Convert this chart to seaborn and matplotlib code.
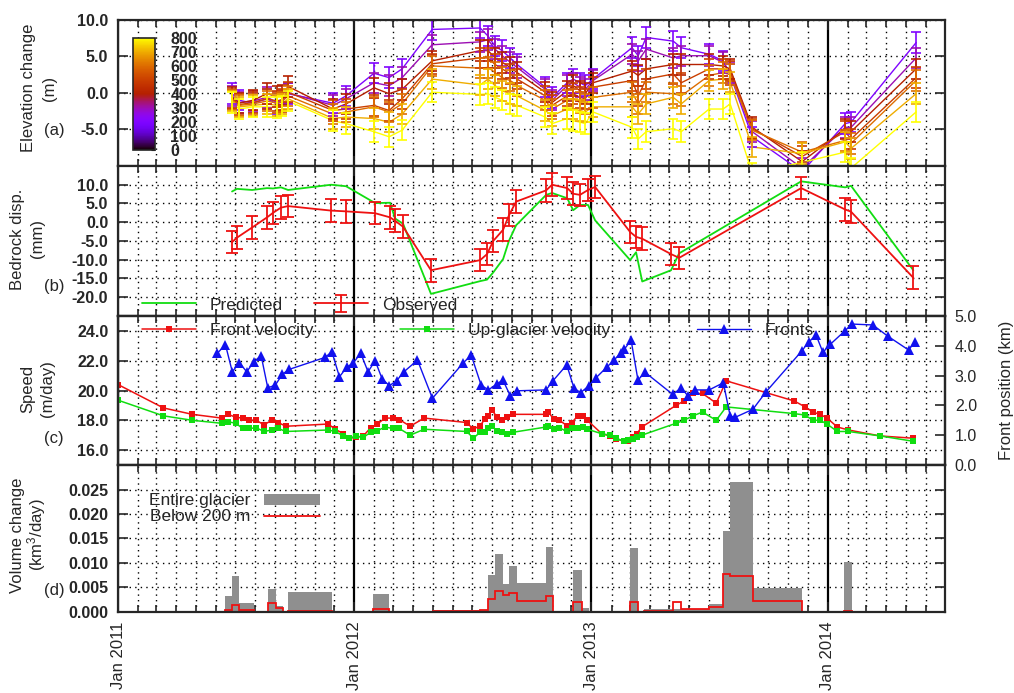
import matplotlib
matplotlib.use('Agg')
import matplotlib.pyplot as plt
import matplotlib.dates as mdates
import numpy as np
import pandas as pd
import seaborn as sns

sns.set_style('ticks')
plt.rcParams['font.family'] = ['Liberation Sans', 'DejaVu Sans']
plt.rcParams['font.size'] = 12
plt.rcParams['axes.linewidth'] = 1.6
plt.rcParams['mathtext.default'] = 'regular'

# time is given in years since 1 Jan 2011

# (a) elevation change per elevation band (m)
dem_t = [0.482, 0.512, 0.571, 0.630, 0.672, 0.693, 0.719, 0.909, 0.964,
         1.082, 1.146, 1.201, 1.328, 1.531, 1.564, 1.594, 1.624, 1.658,
         1.687, 1.806, 1.835, 1.899, 1.924, 1.953, 1.975, 2.008, 2.173,
         2.199, 2.233, 2.347, 2.381, 2.499, 2.558, 2.588, 2.681, 2.892,
         3.074, 3.099, 3.374]
elev_bands = [200, 300, 400, 500, 600, 700, 800]
cbar_ticks = [0, 100, 200, 300, 400, 500, 600, 700, 800]
dh_200 = [-0.1, -1.0, -1.4, -0.8, -1.5, -1.2, -0.1, -1.4, -0.4, 2.7, 2.1, 3.3, 8.7,
          8.9, 7.8, 6.4, 5.8, 4.8, 3.9, 0.8, -0.6, 1.4, 1.9, 1.4, 1.0, 1.9, 6.2,
          5.1, 7.6, 7.1, 6.2, 5.3, 4.4, 2.5, -6.0, -10.8, -4.2, -4.0, 6.9]
dh_300 = [-0.4, -1.3, -1.1, -0.6, -1.3, -1.0, 0.0, -1.7, -0.8, 1.4, 1.0, 2.1, 6.6,
          7.0, 7.3, 6.0, 5.1, 4.2, 3.5, 0.5, -1.0, 1.0, 1.4, 0.8, 0.5, 1.7, 5.3,
          4.4, 6.0, 4.8, 5.1, 5.1, 4.2, 2.8, -5.3, -10.3, -4.7, -4.7, 4.8]
dh_400 = [-0.6, -1.4, -1.0, -0.1, -0.5, -0.3, 0.9, -2.2, -1.5, 0.7, -0.1, 0.5, 4.4,
          5.8, 5.8, 4.8, 4.2, 3.5, 2.8, 0.1, -1.3, 0.3, 1.0, 0.3, -0.1, 1.4, 3.0,
          2.4, 3.3, 3.9, 3.9, 3.9, 3.7, 3.3, -4.7, -9.4, -4.9, -5.3, 3.3]
dh_500 = [-0.8, -1.6, -1.3, -0.8, -1.1, -0.9, 0.1, -2.4, -2.2, -1.7, -2.4, -0.8, 4.0,
          4.8, 4.8, 3.9, 3.3, 2.6, 1.9, -0.4, -1.7, -0.4, -0.1, -0.6, -0.8, 0.8, 1.7,
          -0.4, 1.9, 2.6, 1.4, 3.3, 3.3, 3.0, -4.9, -8.7, -5.3, -6.3, 2.1]
dh_600 = [-1.0, -1.7, -1.5, -1.1, -1.4, -1.2, -0.4, -2.9, -2.6, -1.9, -2.6, -1.5, 3.7,
          3.4, 3.5, 2.8, 2.1, 1.7, 1.0, -1.0, -2.2, -1.0, -0.8, -1.3, -1.5, -0.6, 0.1,
          -1.5, 0.1, -0.1, -0.4, 2.4, 2.8, 2.5, -5.1, -8.1, -6.5, -6.9, 1.7]
dh_700 = [-1.1, -1.9, -1.7, -1.5, -1.7, -1.5, -0.8, -3.5, -3.3, -3.5, -4.0, -2.9, 1.9,
          1.1, 1.9, 1.0, 0.3, -0.1, -0.4, -2.4, -3.1, -2.2, -2.2, -2.4, -2.6, -1.9, -1.9,
          -2.9, -1.5, -0.6, -1.5, 1.7, 1.9, 1.5, -7.4, -8.3, -6.7, -7.6, -0.1]
dh_800 = [-1.3, -2.2, -1.9, -1.9, -2.0, -1.8, -1.1, -3.8, -4.2, -5.3, -6.0, -5.1, 0.1,
          -0.2, -0.1, -0.6, -1.0, -1.5, -1.7, -3.3, -4.2, -3.5, -3.8, -4.0, -4.2, -2.6, -4.7,
          -6.3, -5.3, -4.9, -5.3, -2.2, -2.2, -1.5, -11.0, -9.5, -8.1, -10.3, -2.6]
dh_err = 1.4

# (b) bedrock displacement (mm)
gps_t = [0.482, 0.503, 0.567, 0.630, 0.655, 0.689, 0.719, 0.901, 0.964, 1.087,
         1.150, 1.171, 1.205, 1.323, 1.531, 1.560, 1.586, 1.628, 1.653, 1.683,
         1.810, 1.835, 1.899, 1.924, 1.953, 1.987, 2.017, 2.165, 2.190, 2.216,
         2.338, 2.372, 2.888, 3.074, 3.099, 3.362]
gps_obs = [-5.3, -4.1, -1.4, 1.3, 2.5, 3.9, 4.3, 3.1, 2.9, 2.4, 1.3, 0.4, -1.2,
           -12.8, -10.1, -8.5, -5.0, -2.0, 1.9, 5.5, 8.5, 10.0, 9.1, 7.6, 7.3, 8.6,
           9.4, -2.6, -3.9, -4.4, -8.5, -9.5, 9.1, 3.4, 2.8, -14.8]
gps_pred = [8.2, 8.9, 8.6, 9.1, 9.0, 9.3, 8.6, 10.0, 9.6, 5.1, 5.2, 1.0, -0.4,
            -19.1, -15.7, -15.3, -13.4, -9.8, -4.9, -0.8, 7.3, 7.8, 6.4, 3.2, 4.6, 4.6,
            0.5, -10.1, -8.0, -15.8, -12.8, -8.3, 10.9, 9.3, 9.7, -12.8]
gps_err = 3.0

# (c) speeds (m/day) and front position (km)
vel_t = [0.0, 0.192, 0.314, 0.438, 0.466, 0.498, 0.527, 0.555, 0.584, 0.617,
         0.650, 0.678, 0.709, 0.889, 0.918, 0.953, 0.978, 1.006, 1.037, 1.068,
         1.096, 1.129, 1.162, 1.189, 1.235, 1.294, 1.474, 1.502, 1.531, 1.552,
         1.566, 1.580, 1.601, 1.622, 1.644, 1.671, 1.810, 1.819, 1.841, 1.866,
         1.897, 1.918, 1.944, 1.967, 1.984, 2.045, 2.080, 2.106, 2.137, 2.158,
         2.179, 2.193, 2.214, 2.359, 2.393, 2.430, 2.471, 2.529, 2.571, 2.858,
         2.905, 2.937, 2.968, 2.997, 3.041, 3.088, 3.222, 3.359]
vel_front = [20.4, 18.83, 18.4, 18.15, 18.4, 18.2, 18.15, 18.0, 18.0, 17.7,
             18.0, 17.85, 17.6, 17.75, 17.4, 17.1, 16.8, 16.85, 16.95, 17.5,
             17.75, 18.15, 18.15, 18.05, 17.6, 18.15, 17.85, 17.4, 17.65, 18.1,
             18.3, 18.7, 18.25, 18.0, 18.2, 18.4, 18.4, 18.55, 18.1, 18.0,
             17.65, 17.85, 18.3, 18.3, 18.0, 17.1, 16.95, 16.75, 16.6, 16.6,
             16.9, 17.1, 17.55, 19.0, 19.3, 19.8, 19.8, 19.15, 20.65, 19.3,
             18.9, 18.55, 18.4, 18.15, 17.55, 17.35, 16.95, 16.8]
vel_up = [19.35, 18.3, 18.0, 17.8, 17.9, 17.8, 17.45, 17.45, 17.5, 17.25,
          17.35, 17.45, 17.25, 17.35, 17.25, 16.95, 16.8, 16.95, 16.85, 17.2,
          17.3, 17.55, 17.45, 17.45, 17.0, 17.4, 17.25, 16.8, 17.2, 17.2,
          17.5, 17.65, 17.25, 17.2, 17.1, 17.2, 17.55, 17.6, 17.4, 17.5,
          17.25, 17.45, 17.5, 17.55, 17.4, 17.1, 17.0, 16.8, 16.6, 16.65,
          16.75, 16.9, 17.0, 17.8, 18.0, 18.3, 18.55, 18.0, 18.9, 18.45,
          18.35, 18.0, 18.0, 17.75, 17.25, 17.25, 16.95, 16.6]
front_t = [0.420, 0.454, 0.483, 0.513, 0.544, 0.575, 0.605, 0.633, 0.665, 0.695,
           0.724, 0.875, 0.904, 0.936, 0.967, 0.995, 1.026, 1.057, 1.087, 1.116,
           1.147, 1.178, 1.209, 1.266, 1.329, 1.460, 1.493, 1.535, 1.566, 1.601,
           1.627, 1.658, 1.686, 1.810, 1.838, 1.897, 1.928, 1.956, 1.989, 2.021,
           2.066, 2.097, 2.126, 2.140, 2.169, 2.198, 2.228, 2.345, 2.381, 2.409,
           2.440, 2.499, 2.559, 2.588, 2.609, 2.684, 2.740, 2.891, 2.919, 2.951,
           2.980, 3.011, 3.074, 3.102, 3.191, 3.253, 3.342, 3.370]
front_pos = [3.75, 4.04, 3.13, 3.43, 3.13, 3.47, 3.67, 2.59, 2.68, 3.05,
             3.21, 3.61, 3.80, 2.96, 3.28, 3.43, 3.75, 3.13, 3.50, 2.90,
             2.66, 2.83, 3.13, 3.52, 2.24, 3.43, 3.69, 2.68, 2.52, 2.72,
             2.85, 2.33, 2.49, 2.52, 2.82, 3.36, 2.57, 2.43, 2.65, 2.93,
             3.28, 3.52, 3.77, 3.88, 4.19, 2.85, 3.11, 2.37, 2.59, 2.32,
             2.52, 2.52, 2.76, 1.64, 1.60, 1.87, 2.46, 3.83, 4.12, 4.36,
             3.78, 4.05, 4.51, 4.73, 4.70, 4.33, 3.86, 4.14]

# (d) volume change (km3/day) between successive surveys
vol_edges = [0.452, 0.482, 0.512, 0.575, 0.634, 0.668, 0.698, 0.719, 0.905,
             1.078, 1.146, 1.332, 1.531, 1.564, 1.594, 1.628, 1.653, 1.687,
             1.810, 1.839, 1.924, 1.962, 1.992, 2.165, 2.199, 2.224, 2.347,
             2.381, 2.499, 2.558, 2.588, 2.685, 2.892, 3.070, 3.104]
vol_total = [0.0032, 0.0073, 0.0018, 0, 0.0046, 0.0012, 0, 0.0040, 0, 0.0036,
             0, 0.0005, 0.0005, 0.0075, 0.0119, 0.0058, 0.0094, 0.0060, 0.0133, 0,
             0.0085, 0.0009, 0, 0.0131, 0, 0.0007, 0.0007, 0.0007, 0.0016, 0.0165,
             0.0265, 0.0049, 0, 0.0103]
vol_below = [0.0004, 0.0014, 0.0005, 0, 0.0018, 0.0008, 0, 0.0003, 0, 0.0007,
             0, 0.0001, 0.0004, 0.0027, 0.0042, 0.0035, 0.0038, 0.0023, 0.0033, 0,
             0.0020, 0, 0, 0.0020, 0, 0.0003, 0.0021, 0.0007, 0.0010, 0.0077,
             0.0073, 0.0022, 0, 0.0001]


def to_date(t):
    return pd.Timestamp('2011-01-01') + pd.to_timedelta(np.asarray(t) * 365.25, unit='D')


RED, GREEN, BLUE, GREY = '#ee1111', '#11dd11', '#1111ee', '#8f8f8f'
DOT = (0, (1, 3))
cmap = plt.get_cmap('gnuplot')
norm = plt.Normalize(0, 800)

fig = plt.figure(figsize=(10.14, 6.93), dpi=100)
L, W = 0.1164, 0.8156
ax_a = fig.add_axes([L, 0.7605, W, 0.2107])
ax_b = fig.add_axes([L, 0.5440, W, 0.2165], sharex=ax_a)
ax_c = fig.add_axes([L, 0.3290, W, 0.2150], sharex=ax_a)
ax_d = fig.add_axes([L, 0.1169, W, 0.2121], sharex=ax_a)


def style(ax, ylim, ticks, fmt, right=True):
    ax.set_ylim(*ylim)
    ax.set_yticks(ticks, [fmt % v for v in ticks], fontweight='bold')
    ax.grid(which='minor', axis='x', color='k', ls=DOT, lw=1.0)
    ax.grid(which='major', axis='x', color='k', ls='-', lw=1.6)
    ax.grid(which='major', axis='y', color='k', ls=DOT, lw=1.0)
    ax.tick_params(which='both', direction='in', top=True, right=right,
                   labelsize=11.5, pad=7, width=1.2)
    ax.tick_params(which='major', length=7)
    ax.tick_params(which='minor', length=5)


# (a)
dem_dates = to_date(dem_t)
dh_all = [dh_200, dh_300, dh_400, dh_500, dh_600, dh_700, dh_800]
df_dem = pd.DataFrame({'date': np.tile(dem_dates.values, len(elev_bands)),
                       'dh': np.concatenate(dh_all),
                       'elev': np.repeat(elev_bands, len(dem_t))})
sns.lineplot(data=df_dem, x='date', y='dh', hue='elev', palette='gnuplot',
             hue_norm=(0, 800), legend=False, errorbar=None, lw=1, ax=ax_a)
for e, vals in zip(elev_bands, dh_all):
    ax_a.errorbar(dem_dates, vals, yerr=dh_err, fmt='none', ecolor=cmap(norm(e)),
                  elinewidth=1.2, capsize=3.8, capthick=1.2)
style(ax_a, (-10, 10), [-5, 0, 5, 10], '%.1f')

cax = fig.add_axes([133 / 1014, 1 - 150 / 693, 22 / 1014, 112 / 693])
sm = plt.cm.ScalarMappable(cmap=cmap, norm=norm)
cb = fig.colorbar(sm, cax=cax)
cb.set_ticks(cbar_ticks, labels=[str(v) for v in cbar_ticks], fontweight='bold')
cb.ax.tick_params(labelsize=11.5, length=3, direction='in', pad=11)
cb.outline.set_linewidth(1.2)

# (b)
gps_dates = to_date(gps_t)
sns.lineplot(x=gps_dates, y=gps_pred, color=GREEN, lw=1.3, ax=ax_b, label='Predicted')
ax_b.errorbar(gps_dates, gps_obs, yerr=gps_err, fmt='-', color=RED, lw=1.3,
              elinewidth=1.3, capsize=4, capthick=1.3, label='Observed')
style(ax_b, (-25, 15), [-20, -15, -10, -5, 0, 5, 10], '%.1f')
ax_b.legend(loc='lower left', bbox_to_anchor=(0.025, 0.0), ncol=2, frameon=False,
            handlelength=3.1, columnspacing=1.8, fontsize=12.5, borderaxespad=0,
            borderpad=0.2)

# (c)
vel_dates = to_date(vel_t)
sns.lineplot(x=vel_dates, y=vel_front, color=RED, lw=1.1, marker='s', markersize=4,
             markeredgewidth=0, ax=ax_c, label='Front velocity')
sns.lineplot(x=vel_dates, y=vel_up, color=GREEN, lw=1.1, marker='s', markersize=4,
             markeredgewidth=0, ax=ax_c, label='Up-glacier velocity')
style(ax_c, (15, 25), [16, 18, 20, 22, 24], '%.1f', right=False)
ax_c2 = ax_c.twinx()
sns.lineplot(x=to_date(front_t), y=front_pos, color=BLUE, lw=1.0, marker='^',
             markersize=7, markeredgewidth=0, ax=ax_c2, label='Fronts')
ax_c2.set_ylim(0, 5)
ax_c2.set_yticks([0, 1, 2, 3, 4, 5], ['%.1f' % v for v in range(6)])
ax_c2.tick_params(direction='in', labelsize=11.5, pad=7, length=7, width=1.2)
ax_c2.set_ylabel('')
ax_c2.grid(False)
if ax_c2.get_legend():
    ax_c2.get_legend().remove()
h1, l1 = ax_c.get_legend_handles_labels()
h2, l2 = ax_c2.get_legend_handles_labels()
ax_c.legend(h1 + h2, l1 + l2, loc='upper left', bbox_to_anchor=(0.025, 0.98), ncol=3,
            frameon=False, handlelength=3.1, columnspacing=5.0, fontsize=12.5,
            borderaxespad=0, borderpad=0.2)

# (d)
edges = mdates.date2num(to_date(vol_edges))
ax_d.stairs(vol_total, edges, fill=True, color=GREY, lw=0, label='Entire glacier')
ax_d.stairs(vol_below, edges, color=RED, lw=1.3, label='Below 200 m')
style(ax_d, (0, 0.03), [0, 0.005, 0.010, 0.015, 0.020, 0.025], '%.3f')
ax_d.legend(loc='upper left', bbox_to_anchor=(0.033, 0.83), frameon=False,
            markerfirst=False, handlelength=3.2, handleheight=0.6, labelspacing=0.05,
            fontsize=12.5, borderaxespad=0, borderpad=0.2)

# shared x axis
ax_a.set_xlim(pd.Timestamp('2011-01-01'), pd.Timestamp('2014-07-01'))
ax_a.xaxis.set_major_locator(mdates.YearLocator())
ax_a.xaxis.set_minor_locator(mdates.MonthLocator())
ax_a.xaxis.set_major_formatter(mdates.DateFormatter('%b %Y'))
for ax in (ax_a, ax_b, ax_c):
    ax.tick_params(labelbottom=False)
    ax.set_xlabel('')
    ax.set_ylabel('')
ax_d.set_xlabel('')
ax_d.set_ylabel('')
ax_d.tick_params(axis='x', labelsize=12, pad=7)
plt.setp(ax_d.get_xticklabels(), rotation=90, ha='center', va='top')

# axis titles (each line placed on its own) and panel letters
ylabels = [('Elevation change', 28, 88), ('(m)', 49, 88),
           ('Bedrock disp.', 18, 239), ('(mm)', 38, 239),
           ('Speed', 28, 389), ('(m/day)', 48, 389),
           ('Volume change', 18, 535), ('(km$^3$/day)', 37, 535)]
for txt, xp, yp in ylabels:
    fig.text(xp / 1014, 1 - yp / 693, txt, rotation=90, ha='center', va='center',
             fontsize=12)
fig.text(1007 / 1014, 1 - 390 / 693, 'Front position (km)', rotation=90,
         ha='center', va='center', fontsize=12)
for lab, yp in (('(a)', 130), ('(b)', 287), ('(c)', 438), ('(d)', 590)):
    fig.text(54 / 1014, 1 - yp / 693, lab, ha='center', va='center', fontsize=12)

fig.savefig('out.png', dpi=100)
